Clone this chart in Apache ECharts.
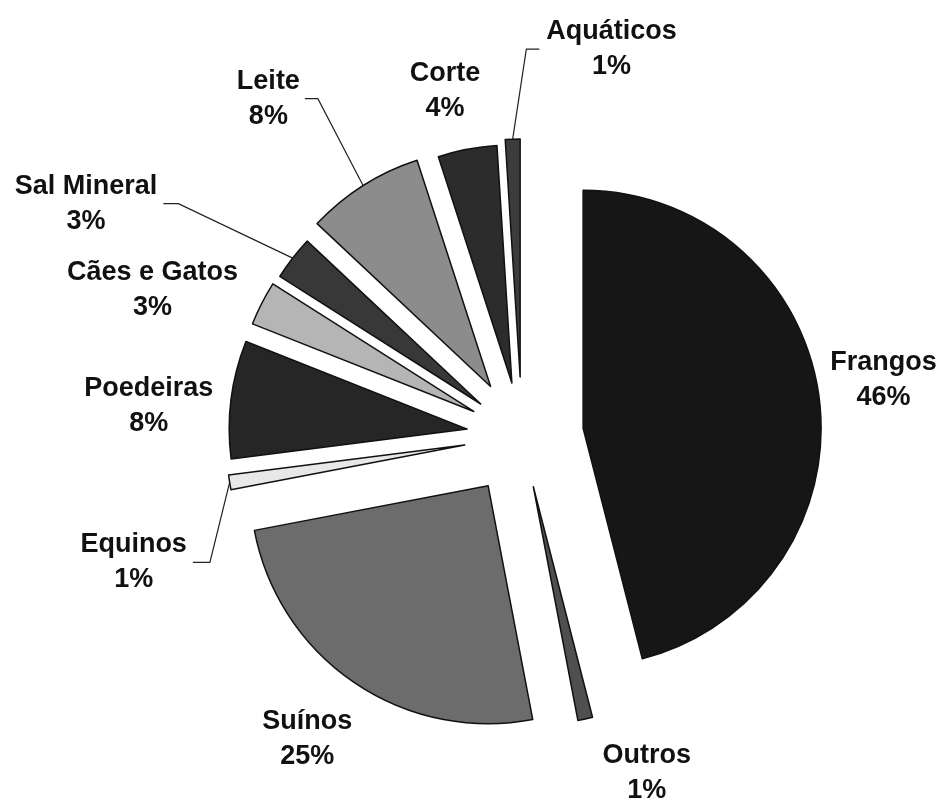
<!DOCTYPE html>
<html>
<head>
<meta charset="utf-8">
<script src="https://cdn.jsdelivr.net/npm/echarts@6/dist/echarts.min.js"></script>
<style>
  html, body { margin: 0; padding: 0; background: #ffffff; }
  #chart { width: 944px; height: 805px; }
</style>
</head>
<body>
<div id="chart"></div>
<script>
// Market share by segment (%)
const categories = ['Frangos', 'Outros', 'Suínos', 'Equinos', 'Poedeiras', 'Cães e Gatos', 'Sal Mineral', 'Leite', 'Corte', 'Aquáticos'];
const shares = [46, 1, 25, 1, 8, 3, 3, 8, 4, 1];

// Presentation settings, one entry per slice
const sliceColors = ['#161616', '#4f4f4f', '#6c6c6c', '#e8e8e8', '#262626', '#b5b5b5', '#383838', '#8c8c8c', '#2c2c2c', '#3c3c3c'];
const explodeDist = [61.6, 52, 60.2, 58, 55.2, 54.1, 52.2, 58.6, 53.9, 59];
const labelLen = [6, 56.5, 68, 20, 13, 21, 89, 103, 59, 90];
const labelLen2 = [0, 0, -41, 15, 0, 0, 60, 3, -29, -172];
const labelNudge = [[0, -18], [0, -1], [0, 0], [-3, 77], [0, 8], [0, -4], [0, 0], [0, 0], [0, 0], [0, 0]];
// leader lines: side of the text the line sits on, gap to the text, horizontal run
const leaders = [null, null, null,
  { side: 'right', gap: 6, run: 17 }, null, null,
  { side: 'right', gap: 6, run: 15 },
  { side: 'right', gap: 5, run: 13 }, null,
  { side: 'left', gap: 7, run: 13 }];

const PIE_CX = 522, PIE_CY = 436, PIE_R = 238;
const FONT = '"Liberation Sans", Arial, Helvetica, sans-serif';

const total = shares.reduce((a, b) => a + b, 0);
let acc = 0;
const midAngles = shares.map(v => {
  const m = (acc + v / 2) / total * 2 * Math.PI;
  acc += v;
  return m;
});

const textStyle = {
  fontFamily: FONT, fontWeight: 'bold', fontSize: 27, color: '#111', lineHeight: 35, align: 'center'
};

// Each slice is drawn by its own pie series so it can be pulled out along its mid-angle.
const series = categories.map((name, i) => ({
  type: 'pie',
  center: [PIE_CX + explodeDist[i] * Math.sin(midAngles[i]), PIE_CY - explodeDist[i] * Math.cos(midAngles[i])],
  radius: PIE_R,
  startAngle: 90,
  clockwise: true,
  avoidLabelOverlap: false,
  silent: true,
  animation: false,
  emphasis: { disabled: true },
  label: { show: false, position: 'outside' },
  labelLine: { show: false },
  data: categories.map((n, j) => j === i ? {
    name: n,
    value: shares[j],
    itemStyle: { color: sliceColors[j], borderColor: '#111', borderWidth: 1.5 },
    label: {
      show: true,
      position: 'outside',
      formatter: p => '{n|' + p.name + '}\n{p|' + p.value + '%}',
      rich: { n: textStyle, p: textStyle }
    },
    labelLine: {
      show: leaders[j] != null,
      length: labelLen[j],
      length2: labelLen2[j],
      lineStyle: { color: '#222', width: 1.2 }
    }
  } : {
    name: n,
    value: shares[j],
    itemStyle: { color: 'rgba(0,0,0,0)', borderWidth: 0 },
    label: { show: false },
    labelLine: { show: false }
  }),
  labelLayout: function (p) {
    const k = p.dataIndex;
    const nd = labelNudge[k];
    const out = { dx: nd[0], dy: nd[1] };
    const ld = leaders[k];
    if (ld && p.labelLinePoints && p.labelLinePoints.length) {
      const r = p.labelRect;
      const cy = r.y + r.height / 2 + nd[1];
      let end, elbow;
      if (ld.side === 'right') {
        end = r.x + r.width + nd[0] + ld.gap;
        elbow = end + ld.run;
      } else {
        end = r.x + nd[0] - ld.gap;
        elbow = end - ld.run;
      }
      out.labelLinePoints = [p.labelLinePoints[0], [elbow, cy], [end, cy]];
    }
    return out;
  }
}));

const chart = echarts.init(document.getElementById('chart'), null, { renderer: 'canvas' });
chart.setOption({
  backgroundColor: '#ffffff',
  animation: false,
  series: series
});
</script>
</body>
</html>
